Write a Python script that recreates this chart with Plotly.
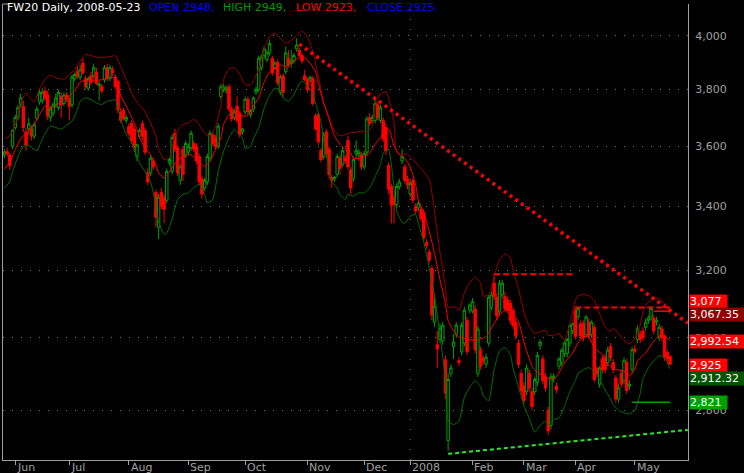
import math
import plotly.graph_objects as go

# ---------------- data ----------------
opens = [
    3570,3582,3570,3600,3665,3700,3745,3740,3650,3660,
    3660,3635,3697,3755,3760,3795,3780,3700,3715,3745,
    3735,3775,3750,3780,3765,3745,3840,3866,3845,3897,
    3840,3805,3850,3850,3862,3815,3812,3835,3880,3840,
    3872,3845,3829,3720,3725,3690,3668,3680,3660,3565,
    3635,3679,3655,3510,3510,3550,3445,3333,3445,3430,
    3420,3545,3515,3645,3595,3485,3590,3570,3580,3595,
    3610,3600,3565,3490,3460,3480,3560,3640,3630,3600,
    3775,3800,3795,3810,3730,3700,3740,3715,3650,3720,
    3765,3710,3730,3790,3800,3880,3925,3910,3935,3915,
    3880,3900,3790,3850,3865,3915,3895,3905,3950,3945,
    3925,3850,3835,3835,3840,3705,3710,3585,3565,3650,
    3590,3495,3490,3505,3560,3540,3560,3620,3520,3490,
    3575,3570,3570,3530,3580,3700,3690,3690,3745,3690,
    3690,3665,3535,3465,3430,3405,3465,3550,3530,3490,
    3440,3485,3400,3395,3390,3380,3285,3255,3205,3045,
    2980,2994,2991,2938,2720,2900,2975,3010,2935,2960,
    2985,3050,3080,3077,3083,2900,2965,2940,2925,2985,
    3088,3160,3118,3077,3125,3120,3110,3100,3080,3045,
    2985,2900,2865,2850,2900,2850,2850,2875,2978,2940,
    2890,2800,2760,2885,2865,2920,2930,2955,2955,2985,
    3020,3080,3060,3040,3040,3010,3045,3010,3030,2913,
    2870,2940,2945,2930,2975,2930,2887,2830,2900,2880,
    2930,2865,2910,2968,2995,3010,3020,3030,3050,3060,
    3057,3045,3000,3025,3005,2958,2948,
]
highs = [
    3590,3595,3578,3660,3710,3745,3785,3760,3665,3700,
    3672,3685,3740,3800,3805,3810,3795,3740,3755,3785,
    3800,3790,3790,3790,3775,3855,3862,3885,3890,3915,
    3850,3848,3865,3895,3880,3830,3820,3890,3895,3890,
    3885,3855,3835,3735,3735,3710,3680,3690,3670,3610,
    3665,3690,3665,3525,3570,3560,3455,3440,3460,3440,
    3525,3560,3640,3660,3605,3540,3600,3620,3610,3655,
    3620,3610,3575,3500,3495,3575,3655,3650,3640,3680,
    3820,3820,3815,3820,3740,3730,3775,3725,3665,3775,
    3775,3730,3775,3810,3925,3930,3960,3945,3985,3925,
    3905,3910,3855,3860,3958,3945,3946,3935,3990,3955,
    3935,3872,3845,3850,3850,3715,3720,3595,3650,3660,
    3600,3505,3500,3575,3570,3600,3570,3635,3530,3565,
    3620,3590,3580,3585,3705,3715,3710,3770,3755,3745,
    3700,3680,3545,3475,3440,3475,3490,3590,3540,3500,
    3485,3495,3410,3420,3400,3390,3295,3265,3215,3120,
    3020,3040,3045,2950,2900,2925,3010,3045,2945,3045,
    3090,3060,3100,3115,3095,3035,2975,2950,2955,3125,
    3135,3187,3130,3170,3170,3135,3120,3110,3090,3055,
    2995,2910,2875,2925,2910,2860,2890,2960,2995,2950,
    2900,2810,2900,2900,2875,2945,2970,2990,3000,3040,
    3045,3090,3090,3050,3050,3065,3055,3050,3040,2920,
    2920,2950,2955,2975,2985,2940,2895,2870,2910,2945,
    2940,2880,2975,2980,3035,3020,3030,3055,3065,3090,
    3065,3060,3040,3035,3010,2965,2949,
]
lows = [
    3560,3565,3520,3590,3655,3690,3735,3650,3585,3640,
    3620,3625,3690,3745,3750,3760,3690,3685,3705,3735,
    3725,3700,3740,3755,3690,3735,3830,3840,3835,3855,
    3800,3795,3815,3840,3815,3760,3785,3825,3830,3830,
    3850,3800,3715,3680,3690,3680,3635,3610,3580,3550,
    3625,3620,3570,3470,3500,3520,3333,3296,3390,3346,
    3410,3535,3505,3580,3500,3470,3483,3560,3570,3585,
    3580,3540,3470,3425,3450,3470,3550,3600,3590,3590,
    3765,3790,3785,3720,3685,3690,3680,3630,3640,3710,
    3710,3700,3720,3780,3790,3870,3915,3900,3925,3850,
    3870,3815,3780,3770,3855,3880,3880,3895,3940,3920,
    3895,3830,3790,3825,3740,3655,3605,3545,3555,3560,
    3490,3460,3480,3495,3505,3530,3540,3520,3440,3480,
    3560,3550,3520,3520,3570,3670,3680,3680,3690,3680,
    3615,3570,3440,3345,3345,3395,3455,3540,3475,3455,
    3430,3410,3375,3385,3350,3290,3265,3220,3050,3030,
    2915,2985,2980,2830,2693,2890,2940,3000,2920,2950,
    2975,2950,3070,3070,2955,2890,2910,2925,2915,2975,
    3080,3110,3050,3065,3115,3075,3070,3040,3025,2995,
    2915,2840,2815,2840,2850,2800,2840,2865,2965,2870,
    2850,2735,2750,2875,2845,2910,2920,2945,2945,2975,
    3010,2995,3050,2995,2990,3000,2995,3000,2875,2890,
    2860,2900,2900,2920,2935,2900,2820,2820,2860,2870,
    2845,2855,2900,2955,2985,2985,2990,3020,3040,3050,
    3010,3035,2990,2990,2935,2930,2923,
]
closes = [
    3580,3575,3535,3655,3700,3735,3770,3665,3605,3678,
    3635,3675,3730,3790,3790,3770,3705,3730,3745,3770,
    3790,3745,3780,3765,3740,3846,3855,3848,3872,3860,
    3810,3840,3825,3880,3822,3820,3795,3880,3840,3880,
    3862,3810,3727,3690,3697,3700,3644,3620,3595,3605,
    3655,3635,3580,3480,3560,3530,3365,3430,3400,3390,
    3515,3555,3630,3590,3510,3530,3505,3610,3600,3645,
    3590,3550,3480,3440,3485,3565,3645,3610,3600,3670,
    3810,3810,3805,3730,3695,3720,3690,3640,3660,3765,
    3720,3725,3770,3800,3915,3920,3950,3935,3970,3860,
    3897,3825,3845,3790,3935,3890,3905,3925,3965,3925,
    3905,3835,3800,3845,3750,3660,3615,3555,3640,3575,
    3505,3485,3495,3565,3525,3585,3550,3530,3460,3555,
    3585,3580,3530,3575,3695,3680,3700,3750,3700,3735,
    3625,3585,3456,3405,3405,3465,3480,3565,3485,3470,
    3475,3420,3385,3410,3360,3300,3275,3230,3066,3090,
    2968,3028,3036,2846,2883,2915,2988,3036,2930,3036,
    3080,2960,3095,3105,2966,3025,2920,2935,2945,3118,
    3125,3120,3063,3160,3160,3085,3080,3050,3035,3005,
    2925,2852,2826,2915,2860,2810,2883,2950,2988,2880,
    2860,2745,2890,2892,2855,2940,2965,2985,2995,3035,
    3040,3003,3085,3005,3000,3060,3005,3045,2883,2900,
    2915,2910,2910,2965,2945,2910,2830,2860,2870,2935,
    2853,2870,2966,2962,3025,2995,3000,3045,3057,3085,
    3020,3050,3030,3000,2945,2940,2925,
]
bars = list(range(len(closes)))

month_labels = ["Jun", "Jul", "Aug", "Sep", "Oct", "Nov", "Dec", "2008", "Feb", "Mar", "Apr", "May"]
month_start_bar = [4, 24, 46, 68, 89, 112, 133, 150, 173, 192, 211, 233]
year_start_bar = 150

upper_bar = [0,2,4,6,8,9,11,13,15,17,19,21,22,24,26,28,30,32,35,39,41,43,45,47,49,51,53,56,57,59,
             61,63,65,67,68,70,72,74,76,78,80,81,83,85,87,89,91,92,94,96,98,100,102,104,107,110,112,
             114,116,118,120,121,123,125,128,130,132,134,136,137,139,141,142,144,145,147,149,153,157,
             159,161,163,164,167,168,170,172,174,176,177,179,181,183,185,187,188,190,192,194,196,198,
             200,201,203,205,207,209,211,212,214,216,218,220,222,224,225,227,229,231,233,235,236,238,
             240,242,244,246]
upper_val = [3626,3637,3674,3755,3787,3775,3755,3803,3838,3853,3843,3839,3837,3855,3873,3905,3929,3925,
             3917,3921,3924,3884,3837,3788,3754,3733,3702,3635,3589,3555,3561,3635,3668,3680,3680,3694,
             3676,3645,3636,3668,3741,3836,3875,3880,3855,3817,3817,3830,3875,3952,3996,4009,3990,3971,
             3990,4018,3996,3939,3851,3752,3700,3671,3642,3636,3648,3648,3653,3648,3671,3742,3784,3792,
             3771,3684,3580,3573,3573,3535,3489,3380,3253,3150,3089,3089,3078,3131,3161,3179,3161,3121,
             3126,3181,3231,3250,3236,3200,3144,3075,3032,3013,3017,3022,3007,3007,3012,2992,3041,3108,
             3122,3127,3122,3108,3069,3032,3017,3028,3012,2992,2983,2997,3036,3075,3103,3113,3113,3100,
             3067.35]

mid_bar = [0,2,4,6,8,9,11,13,15,17,19,21,22,24,26,28,30,32,33,35,37,39,41,42,43,45,47,49,50,52,54,56,
           57,59,61,63,65,67,68,70,72,74,76,78,80,81,83,85,87,89,91,92,94,96,98,100,102,104,105,107,109,
           111,113,115,116,118,120,122,124,126,128,129,131,133,135,137,139,140,142,143,144,146,148,150,
           152,153,155,157,159,161,163,164,166,168,172,175,178,180,183,185,187,190,192,195,197,200,203,
           205,207,210,212,214,216,218,221,223,226,229,231,233,234,237,240,243,246]
mid_val = [3523,3545,3589,3625,3645,3653,3676,3710,3741,3733,3741,3758,3767,3777,3796,3827,3834,3827,3834,
           3834,3838,3845,3841,3815,3777,3741,3702,3659,3629,3594,3571,3538,3510,3493,3514,3542,3559,3564,
           3575,3564,3548,3531,3548,3589,3629,3676,3710,3716,3710,3704,3716,3741,3770,3827,3865,3876,3890,
           3884,3890,3905,3918,3918,3896,3865,3822,3752,3695,3636,3607,3589,3577,3559,3559,3564,3577,3607,
           3630,3648,3660,3636,3601,3571,3559,3530,3470,3420,3380,3320,3250,3170,3100,3050,3020,3003,2994,
           2994,3003,3028,3066,3080,3077,3047,2988,2920,2902,2890,2883,2902,2930,2957,2985,3003,3003,2972,
           2952,2925,2911,2906,2893,2911,2935,2957,2990,3010,2992.54]

lower_bar = [0,2,3,5,7,9,11,12,14,16,17,19,21,23,25,27,28,30,32,34,36,38,40,41,43,45,46,48,50,52,54,56,
             57,59,60,62,64,66,68,70,72,74,75,77,79,81,83,85,86,88,89,91,92,94,96,98,100,102,103,105,107,
             109,110,112,114,115,117,118,119,120,121,123,124,126,127,129,131,133,135,137,139,140,142,143,
             144,145,147,148,150,152,153,155,157,159,161,163,164,166,168,170,172,174,176,177,179,181,183,
             185,187,188,190,192,194,196,198,200,201,203,205,207,209,211,212,214,216,218,220,222,224,225,
             227,229,231,233,235,236,238,240,242,244,246]
lower_val = [3459,3481,3514,3564,3600,3603,3589,3585,3625,3659,3670,3665,3659,3673,3687,3729,3758,3770,
             3764,3752,3746,3758,3761,3764,3694,3641,3629,3589,3542,3514,3481,3403,3349,3311,3314,3360,
             3422,3439,3444,3461,3472,3439,3411,3422,3514,3583,3629,3659,3648,3629,3592,3600,3625,3665,
             3733,3780,3805,3799,3770,3758,3782,3820,3830,3815,3782,3752,3684,3620,3571,3526,3481,3459,
             3439,3422,3439,3433,3444,3444,3461,3497,3538,3577,3589,3538,3459,3384,3349,3346,3368,3374,
             3346,3286,3206,3121,3007,2883,2771,2762,2771,2835,2862,2880,2862,2839,2825,2911,2963,2972,
             2952,2914,2862,2813,2777,2742,2760,2771,2760,2775,2780,2810,2850,2880,2899,2910,2916,2905,
             2883,2855,2830,2815,2800,2793,2790,2800,2845,2885,2915,2935,2950,2942,2912.32]

trend_bar = [109, 252.6]
trend_val = [3968, 3042]
support_bar = [164, 252.6]
support_val = [2686, 2748]
feb_level_bar = [181, 211]
feb_level = 3187
apr_level_bar = [211, 246]
apr_level = 3088
red_level_bar = [240, 246]
red_level = 3077
green_level_bar = [232, 246]
green_level = 2821

price_ticks = [2800, 3000, 3200, 3400, 3600, 3800, 4000]
box_values = [3077, 3067.35, 2992.54, 2925, 2912.32, 2821]
box_texts = ["3,077", "3,067.35", "2,992.54", "2,925", "2,912.32", "2,821"]

# ---------------- styling ----------------
FONT = "DejaVu Sans, Verdana, sans-serif"
GREY = "#a0a0a0"
RED = "#ff0000"
GREEN = "#00a000"
W, H = 744, 473
L, R, T, B = 3, 56, 4, 13
PW = W - L - R


def px_x(px):
    return (px - L) / PW


fig = go.Figure()

fig.add_trace(go.Candlestick(
    x=bars, open=opens, high=highs, low=lows, close=closes,
    increasing=dict(line=dict(color=GREEN, width=1), fillcolor="#000000"),
    decreasing=dict(line=dict(color=RED, width=1), fillcolor=RED),
    whiskerwidth=0, hoverinfo="skip", showlegend=False,
))

for xs, ys, col in [(upper_bar, upper_val, "#990000"),
                    (mid_bar, mid_val, RED),
                    (lower_bar, lower_val, "#007000")]:
    fig.add_trace(go.Scatter(x=xs, y=ys, mode="lines",
                             line=dict(color=col, width=1, shape="spline", smoothing=0.5),
                             hoverinfo="skip", showlegend=False))

fig.add_trace(go.Scatter(x=trend_bar, y=trend_val, mode="lines",
                         line=dict(color=RED, width=3.5, dash="3px,4px"), hoverinfo="skip", showlegend=False))
fig.add_trace(go.Scatter(x=support_bar, y=support_val, mode="lines",
                         line=dict(color="#22ee22", width=2, dash="4px,3px"), hoverinfo="skip", showlegend=False))
for xs, lvl in [(feb_level_bar, feb_level), (apr_level_bar, apr_level)]:
    fig.add_trace(go.Scatter(x=xs, y=[lvl, lvl], mode="lines",
                             line=dict(color=RED, width=2, dash="6px,3px"), hoverinfo="skip", showlegend=False))
fig.add_trace(go.Scatter(x=red_level_bar, y=[red_level, red_level], mode="lines",
                         line=dict(color=RED, width=1.5), hoverinfo="skip", showlegend=False))
fig.add_trace(go.Scatter(x=green_level_bar, y=[green_level, green_level], mode="lines",
                         line=dict(color=GREEN, width=1.5), hoverinfo="skip", showlegend=False))

annotations = []
# month labels
for b, lab in zip(month_start_bar, month_labels):
    annotations.append(dict(x=b, xref="x", y=0, yref="paper", yanchor="middle", xanchor="left",
                            xshift=1, yshift=-7, text=lab, showarrow=False, borderpad=0,
                            font=dict(family=FONT, size=11, color=GREY)))

# title segments
title_parts = [
    ("FW20 Daily, 2008-05-23", "#ffffff", 6),
    (f"OPEN {opens[-1]},", "#0000ff", 148),
    (f"HIGH {highs[-1]},", "#009900", 222),
    (f"LOW {lows[-1]},", RED, 295),
    (f"CLOSE {closes[-1]}.", "#0000ff", 366),
]
for txt, col, px in title_parts:
    annotations.append(dict(x=px_x(px), xref="paper", y=1, yref="paper", yanchor="middle",
                            xanchor="left", yshift=-3, text=txt, showarrow=False, borderpad=0,
                            font=dict(family=FONT, size=11, color=col)))

# right-side value boxes
box_colors = [RED, "#8b0000", RED, RED, "#005500", "#00a000"]
box_shift = [9.5, 0, -1, -1, -10, 0]
for v, t, c, s in zip(box_values, box_texts, box_colors, box_shift):
    wide = "." in t
    annotations.append(dict(x=px_x(689), xref="paper", y=math.log10(v), yref="y",
                            xanchor="left", yanchor="middle", yshift=s, text=t, showarrow=False,
                            bgcolor=c, borderpad=0, width=54 if wide else 37, height=13, align="left",
                            font=dict(family=FONT, size=11, color="#ffffff")))

shapes = [
    dict(type="line", xref="x", yref="paper", x0=year_start_bar, x1=year_start_bar, y0=0, y1=1,
         line=dict(color="#707070", width=1, dash="1px,9px"), layer="below"),
    dict(type="line", xref="paper", yref="paper", x0=0, x1=0.009, y0=1, y1=1,
         line=dict(color=GREY, width=1)),
]

fig.update_layout(
    width=W, height=H, margin=dict(l=L, r=R, t=T, b=B, autoexpand=False),
    paper_bgcolor="#000000", plot_bgcolor="#000000",
    showlegend=False, boxgap=0.1, boxgroupgap=0,
    annotations=annotations, shapes=shapes,
    xaxis=dict(range=[-0.517, 252.65], showgrid=False, zeroline=False,
               showline=True, linecolor=GREY, linewidth=1,
               ticks="outside", ticklen=4, tickcolor=GREY, tickwidth=1,
               tickvals=month_start_bar, showticklabels=False, automargin=False,
               rangeslider=dict(visible=False), fixedrange=True),
    yaxis=dict(type="log", range=[math.log10(2670.3), math.log10(4122.6)], side="right",
               showline=True, mirror=True, linecolor=GREY, linewidth=1,
               showgrid=True, gridcolor="#707070", gridwidth=1, griddash="1px,8px",
               zeroline=False, tickvals=price_ticks, ticktext=[f"{v:,}" for v in price_ticks],
               ticks="", ticklabelstandoff=4, automargin=False,
               tickfont=dict(family=FONT, size=11, color=GREY), fixedrange=True),
)

fig.write_html(
    "out.html",
    config={"displayModeBar": False},
    post_script="document.body.style.margin='0';document.body.style.padding='0';"
                "document.documentElement.style.overflow='hidden';",
)
